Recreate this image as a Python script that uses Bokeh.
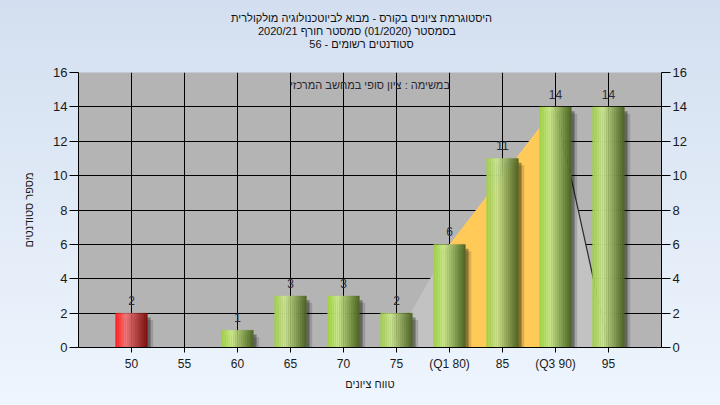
from bokeh.plotting import figure
from bokeh.layouts import column
from bokeh.models import ColumnDataSource, LinearAxis, FixedTicker, Range1d, Label
from bokeh.embed import file_html
from bokeh.resources import INLINE
from bokeh.core.properties import value
from bokeh.transform import dodge

# ---------------- data ----------------
grades = [50, 55, 60, 65, 70, 75, 80, 85, 90, 95]
counts = [2, 0, 1, 3, 3, 2, 6, 11, 14, 14]
tick_labels = ["50", "55", "60", "65", "70", "75", "(Q1 80)", "85", "(Q3 90)", "95"]
failing_grades = [50]
y_ticks = [0, 2, 4, 6, 8, 10, 12, 14, 16]

range_x = [74.5, 80, 90, 95]
range_y = [0, 6, 14, 0]
iqr_x = [80, 80, 90, 90]
iqr_y = [0, 6, 14, 0]
tail_x = [90, 95]
tail_y = [14, 0]

title_lines = [
    "היסטוגרמת ציונים בקורס - מבוא לביוטכנולוגיה מולקולרית",
    "בסמסטר  (01/2020)  סמסטר חורף  2020/21",
    "סטודנטים רשומים - 56",
]
subtitle = "במשימה : ציון סופי במחשב המרכזי"
x_title = "טווח ציונים"
y_title = "מספר סטודנטים"

FONT = "Liberation Sans"
BAR_W = 3.0
N_STRIPS = 16

green_stops = [(0.0, (158, 206, 66)), (0.32, (204, 232, 142)), (1.0, (76, 100, 34))]
red_stops = [(0.0, (255, 25, 25)), (0.32, (236, 122, 122)), (1.0, (122, 14, 14))]


def interp(stops, t):
    for (t0, c0), (t1, c1) in zip(stops[:-1], stops[1:]):
        if t0 <= t <= t1:
            f = (t - t0) / (t1 - t0)
            rgb = [round(a + (b - a) * f) for a, b in zip(c0, c1)]
            return "#%02x%02x%02x" % tuple(rgb)
    return "#%02x%02x%02x" % stops[-1][1]


sx, stop, scol = [], [], []
shx, shtop = [], []
lx, ly, lt = [], [], []
for g, c in zip(grades, counts):
    if c == 0:
        continue
    stops = red_stops if g in failing_grades else green_stops
    for i in range(N_STRIPS):
        t = (i + 0.5) / N_STRIPS
        sx.append(g - BAR_W / 2 + t * BAR_W)
        stop.append(c)
        scol.append(interp(stops, t))
    shx.append(g)
    shtop.append(c)
    lx.append(g)
    ly.append(c)
    lt.append(str(c))

strip_src = ColumnDataSource(dict(x=sx, top=stop, color=scol))
shadow_src = ColumnDataSource(dict(x=shx, top=shtop))
label_src = ColumnDataSource(dict(x=lx, y=ly, text=lt))

# ---------------- title strip ----------------
tp = figure(width=720, height=64, x_range=Range1d(0, 720), y_range=Range1d(0, 64),
            output_backend="svg", toolbar_location=None,
            x_axis_type=None, y_axis_type=None, min_border=0)
tp.border_fill_color = None
tp.background_fill_color = None
tp.outline_line_color = None
tp.grid.visible = False
for txt, yy in zip(title_lines, [47, 34, 21]):
    tp.add_layout(Label(x=283, y=yy, x_units="screen", y_units="screen", text=txt,
                        text_align="center", text_baseline="middle", text_font=FONT,
                        text_font_size="11px", text_color="#111111"))

# ---------------- main chart ----------------
p = figure(
    width=720, height=341,
    x_range=Range1d(45, 100), y_range=Range1d(0, 16),
    output_backend="svg", toolbar_location=None,
    min_border_left=78, min_border_right=59, min_border_top=8, min_border_bottom=58,
)
p.title = None
p.border_fill_color = None
p.background_fill_color = "#b4b4b4"
p.outline_line_color = None

p.xgrid.ticker = FixedTicker(ticks=grades)
p.ygrid.ticker = FixedTicker(ticks=y_ticks)
for gr in (p.xgrid, p.ygrid):
    gr.grid_line_color = "black"
    gr.grid_line_width = 1
    gr.grid_line_alpha = 1

p.patch(range_x, range_y, fill_color="#c2c2c2", line_color=None)
p.patch(iqr_x, iqr_y, fill_color="#ffca58", line_color=None)
p.line(tail_x, tail_y, line_color="#2a2a2a", line_width=1.2)

p.vbar(x=dodge("x", 0.55, range=p.x_range), top=dodge("top", -0.4, range=p.y_range),
       width=BAR_W, bottom=0, source=shadow_src, fill_color="black", fill_alpha=0.15, line_color=None)
p.vbar(x=dodge("x", 0.3, range=p.x_range), top=dodge("top", -0.25, range=p.y_range),
       width=BAR_W, bottom=0, source=shadow_src, fill_color="black", fill_alpha=0.35, line_color=None)

p.vbar(x="x", top="top", bottom=0, width=BAR_W / N_STRIPS * 1.05, source=strip_src,
       fill_color="color", line_color="color", line_width=0.3)

p.text(x="x", y="y", text="text", source=label_src, text_align="center", text_baseline="bottom",
       y_offset=-8, text_font=value(FONT), text_font_size="12px", text_color="#2e2a3a")

p.xaxis.ticker = FixedTicker(ticks=grades)
p.xaxis.major_label_overrides = {g: t for g, t in zip(grades, tick_labels)}
p.xaxis.axis_label = x_title
p.yaxis.ticker = FixedTicker(ticks=y_ticks)
p.yaxis.axis_label = y_title

right = LinearAxis(ticker=FixedTicker(ticks=y_ticks))
p.add_layout(right, "right")

for ax in p.xaxis + p.yaxis:
    ax.axis_line_color = "black"
    ax.major_tick_line_color = "black"
    ax.minor_tick_line_color = None
    ax.major_tick_in = 0
    ax.major_label_text_font = FONT
    ax.major_label_text_color = "#1a1a1a"
    ax.axis_label_text_font = FONT
    ax.axis_label_text_font_style = "normal"
    ax.axis_label_text_font_size = "11px"
    ax.axis_label_text_color = "#1a1a1a"

p.xaxis.major_tick_out = 5
p.xaxis.major_label_text_font_size = "12px"
p.xaxis.major_label_standoff = 4
p.xaxis.axis_label_standoff = 4
for ax in p.yaxis:
    ax.major_tick_out = 9
    ax.major_label_text_font_size = "13px"
    ax.major_label_standoff = 2
p.yaxis[0].axis_label_standoff = 15

p.add_layout(Label(x=291.5, y=263, x_units="screen", y_units="screen", text=subtitle,
                   text_align="center", text_baseline="middle", text_font=FONT,
                   text_font_size="11px", text_color="#2a2630"))

page = column(tp, p, spacing=0)
page.styles = {"background": "linear-gradient(to bottom, #d3dff0, #eef5fd)"}

open("out.html", "w").write(file_html(page, INLINE))
